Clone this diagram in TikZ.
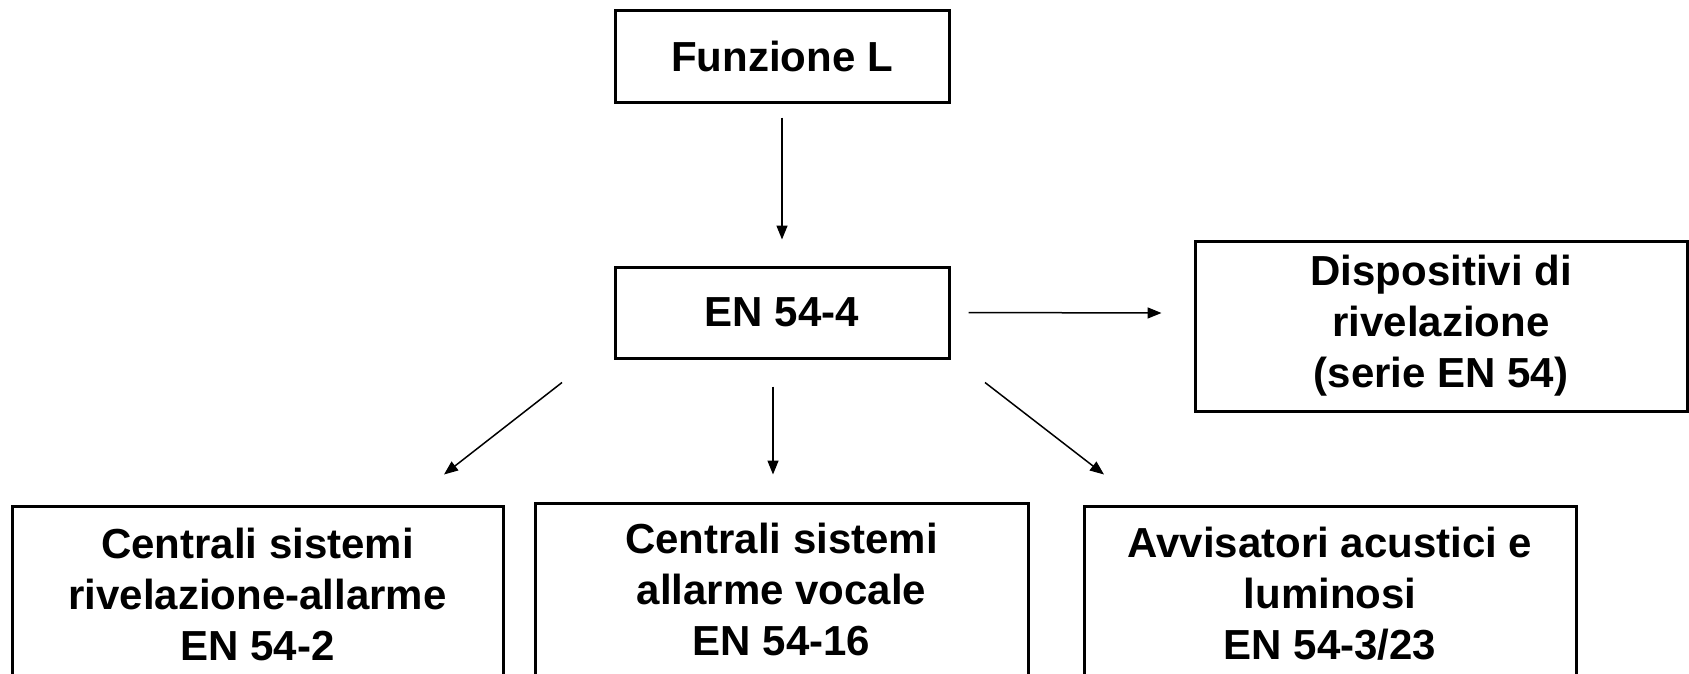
\documentclass[tikz,border=0pt]{standalone}
\usepackage{fontspec}
\setmainfont{Liberation Sans}
\usetikzlibrary{arrows.meta,calc}
\begin{document}
\begin{tikzpicture}[x=1pt,y=-1pt,
  box/.style={draw=black,line width=3pt,fill=white,inner sep=0pt,align=center,
    font=\bfseries\fontsize{42}{51}\selectfont},
  arr/.style={line width=1.5pt,-{Triangle[length=14pt,width=11pt]}}]
\clip (0,0) rectangle (1689,673);
\fill[white] (0,0) rectangle (1689,673);
\node[box,minimum width=334pt,minimum height=92pt] (funz) at (782,56) {Funzione L};
\node[box,minimum width=334pt,minimum height=91pt] (en) at (782,312.5) {EN 54-4};
\node[box,minimum width=492pt,minimum height=170pt] (disp) at (1441,326) {Dispositivi di\\rivelazione\\(serie EN 54)};
\node[box,minimum width=491pt,minimum height=176pt] (cen) at (257.5,594) {Centrali sistemi\\rivelazione-allarme\\EN 54-2};
\node[box,minimum width=493pt,minimum height=172pt] (voc) at (781.5,589) {Centrali sistemi\\allarme vocale\\EN 54-16};
\node[box,minimum width=492pt,minimum height=176pt] (avv) at (1330,594) {Avvisatori acustici e\\luminosi\\EN 54-3/23};
\draw[arr] ($(funz.south)+(0,14)$) -- ($(en.north)+(0,-26)$);
\draw[arr] ($(en.east)+(18,0)$) -- ($(disp.west)+(-32,-13)$);
\draw[arr] ($(en.south)+(-220,23)$) -- ($(cen.north)+(186.5,-30)$);
\draw[arr] ($(en.south)+(-9,27)$) -- ($(voc.north)+(-8.5,-27)$);
\draw[arr] ($(en.south)+(203,23)$) -- ($(avv.north)+(-226,-30)$);
\end{tikzpicture}
\end{document}
